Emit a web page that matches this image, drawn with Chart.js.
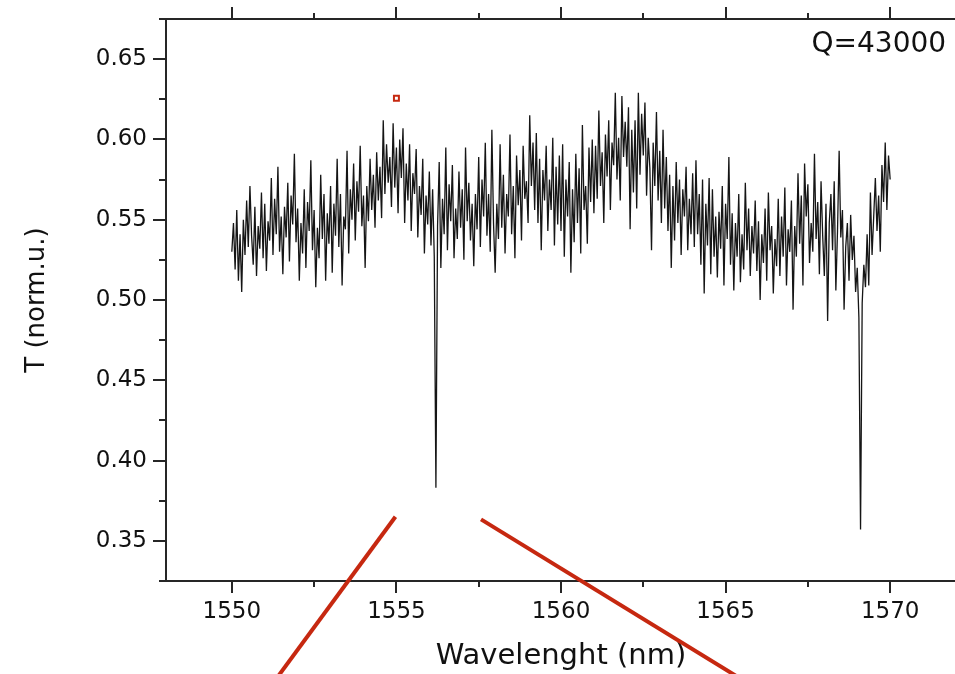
<!DOCTYPE html>
<html><head><meta charset="utf-8">
<script src="https://cdn.jsdelivr.net/npm/chart.js@4/dist/chart.umd.min.js"></script>
<style>html,body{margin:0;padding:0;overflow:hidden;background:#fff}canvas{display:block}</style>
</head><body>
<canvas id="c" width="962" height="674"></canvas>
<script>
// Sampling grid of the measured spectrum (nm)
const wlStart = 1550;
const wlStep = 0.05;
const transmission = [
  0.530, 0.548, 0.519, 0.556, 0.512, 0.541, 0.505, 0.550, 0.528, 0.562, 0.533, 0.571, 0.540, 0.522, 0.558, 0.515, 0.546, 0.532, 0.567, 0.526,
  0.560, 0.518, 0.549, 0.537, 0.576, 0.528, 0.563, 0.541, 0.583, 0.530, 0.552, 0.516, 0.558, 0.539, 0.573, 0.524, 0.565, 0.547, 0.591, 0.536,
  0.557, 0.512, 0.548, 0.529, 0.569, 0.520, 0.561, 0.543, 0.587, 0.531, 0.556, 0.508, 0.545, 0.526, 0.578, 0.538, 0.566, 0.512, 0.554, 0.535,
  0.571, 0.517, 0.560, 0.540, 0.588, 0.533, 0.566, 0.509, 0.552, 0.544, 0.593, 0.529, 0.569, 0.550, 0.585, 0.537, 0.574, 0.555, 0.596, 0.546,
  0.565, 0.520, 0.571, 0.549, 0.588, 0.556, 0.578, 0.545, 0.592, 0.562, 0.583, 0.551, 0.612, 0.566, 0.597, 0.573, 0.589, 0.558, 0.610, 0.570,
  0.595, 0.554, 0.600, 0.576, 0.607, 0.548, 0.585, 0.562, 0.597, 0.543, 0.579, 0.566, 0.594, 0.539, 0.571, 0.553, 0.588, 0.529, 0.565, 0.547,
  0.580, 0.534, 0.569, 0.527, 0.383, 0.546, 0.586, 0.520, 0.563, 0.541, 0.595, 0.531, 0.572, 0.549, 0.584, 0.526, 0.557, 0.538, 0.580, 0.545,
  0.569, 0.525, 0.595, 0.549, 0.573, 0.537, 0.560, 0.521, 0.566, 0.544, 0.589, 0.533, 0.575, 0.552, 0.598, 0.540, 0.566, 0.530, 0.606, 0.548,
  0.517, 0.560, 0.538, 0.597, 0.545, 0.578, 0.529, 0.566, 0.552, 0.603, 0.541, 0.571, 0.526, 0.590, 0.559, 0.581, 0.537, 0.596, 0.563, 0.574,
  0.548, 0.615, 0.571, 0.598, 0.556, 0.604, 0.548, 0.588, 0.531, 0.581, 0.562, 0.596, 0.543, 0.575, 0.556, 0.601, 0.534, 0.583, 0.547, 0.590,
  0.543, 0.597, 0.527, 0.575, 0.552, 0.586, 0.517, 0.569, 0.536, 0.591, 0.548, 0.582, 0.529, 0.609, 0.556, 0.571, 0.535, 0.595, 0.561, 0.600,
  0.554, 0.596, 0.563, 0.618, 0.571, 0.592, 0.548, 0.603, 0.577, 0.612, 0.556, 0.598, 0.584, 0.629, 0.575, 0.601, 0.562, 0.627, 0.589, 0.611,
  0.583, 0.620, 0.544, 0.606, 0.567, 0.612, 0.557, 0.629, 0.578, 0.616, 0.590, 0.623, 0.565, 0.601, 0.582, 0.531, 0.598, 0.571, 0.617, 0.562,
  0.593, 0.548, 0.606, 0.557, 0.589, 0.543, 0.578, 0.520, 0.571, 0.537, 0.586, 0.548, 0.575, 0.528, 0.569, 0.552, 0.583, 0.531, 0.563, 0.541,
  0.579, 0.533, 0.587, 0.541, 0.566, 0.522, 0.575, 0.504, 0.560, 0.534, 0.576, 0.516, 0.569, 0.527, 0.552, 0.514, 0.555, 0.532, 0.571, 0.509,
  0.560, 0.538, 0.589, 0.522, 0.554, 0.506, 0.548, 0.527, 0.566, 0.511, 0.541, 0.519, 0.573, 0.531, 0.557, 0.515, 0.546, 0.529, 0.562, 0.518,
  0.549, 0.500, 0.541, 0.523, 0.557, 0.512, 0.567, 0.531, 0.546, 0.504, 0.538, 0.521, 0.563, 0.515, 0.552, 0.527, 0.570, 0.509, 0.544, 0.530,
  0.562, 0.494, 0.546, 0.527, 0.579, 0.535, 0.565, 0.509, 0.585, 0.552, 0.572, 0.523, 0.548, 0.530, 0.591, 0.538, 0.561, 0.516, 0.574, 0.540,
  0.515, 0.560, 0.487, 0.548, 0.566, 0.531, 0.574, 0.506, 0.543, 0.593, 0.539, 0.556, 0.494, 0.533, 0.548, 0.512, 0.553, 0.525, 0.540, 0.505,
  0.520, 0.489, 0.357, 0.498, 0.522, 0.508, 0.541, 0.509, 0.567, 0.528, 0.552, 0.576, 0.543, 0.565, 0.530, 0.584, 0.561, 0.598, 0.556, 0.590,
  0.575
];
const wavelengths = transmission.map((_, i) => +(wlStart + i * wlStep).toFixed(2));

// Tick values / labels
const xMajorTicks = [1550, 1555, 1560, 1565, 1570];
const xMinorTicks = [1552.5, 1557.5, 1562.5, 1567.5];
const yMajorTicks = [0.35, 0.40, 0.45, 0.50, 0.55, 0.60, 0.65];
const yMinorTicks = [0.325, 0.375, 0.425, 0.475, 0.525, 0.575, 0.625, 0.675];

// Annotations (data coordinates)
const zoomLineLeft = [{x: 1554.97, y: 0.365}, {x: 1551.40, y: 0.2655}];
const zoomLineRight = [{x: 1557.57, y: 0.3634}, {x: 1565.35, y: 0.2655}];
const markerPoint = [{x: 1555.0, y: 0.6257}];
const qLabel = 'Q=43000';
const qLabelPos = {x: 1571.7, y: 0.6545};

const axisColor = '#262626';
const red = '#c62810';
const FONT = 'DejaVu Sans';
Chart.defaults.font.family = FONT;
Chart.defaults.color = '#111';

const noPad = s => { s.paddingTop = 0; s.paddingBottom = 0; s.paddingLeft = 0; s.paddingRight = 0; };

const tickPlugin = {
  id: 'axisTicks',
  afterDraw(chart) {
    const {ctx, chartArea: a, scales: {x, y}} = chart;
    ctx.save();
    ctx.strokeStyle = axisColor;
    ctx.lineWidth = 2;
    ctx.beginPath();
    const vx = (vals, len) => vals.forEach(v => {
      const p = Math.round(x.getPixelForValue(v));
      ctx.moveTo(p, a.bottom); ctx.lineTo(p, a.bottom + len);
      ctx.moveTo(p, a.top); ctx.lineTo(p, a.top - len);
    });
    const vy = (vals, len) => vals.forEach(v => {
      const p = Math.round(y.getPixelForValue(v));
      ctx.moveTo(a.left, p); ctx.lineTo(a.left - len, p);
    });
    vx(xMajorTicks, 12); vx(xMinorTicks, 6);
    vy(yMajorTicks, 13); vy(yMinorTicks, 7);
    ctx.stroke();
    ctx.fillStyle = '#111';
    ctx.font = '28px "' + FONT + '"';
    ctx.textAlign = 'right';
    ctx.textBaseline = 'alphabetic';
    ctx.fillText(qLabel, x.getPixelForValue(qLabelPos.x), y.getPixelForValue(qLabelPos.y));
    ctx.restore();
  }
};

new Chart(document.getElementById('c'), {
  type: 'line',
  data: {
    datasets: [
      {data: wavelengths.map((w, i) => ({x: w, y: transmission[i]})), borderColor: '#151515', borderWidth: 1.3, pointRadius: 0, tension: 0},
      {data: zoomLineLeft, borderColor: red, borderWidth: 4, pointRadius: 0, clip: false},
      {data: zoomLineRight, borderColor: red, borderWidth: 4, pointRadius: 0, clip: false},
      {data: markerPoint, showLine: false, pointStyle: 'rect', pointRadius: 3.5, borderColor: red, borderWidth: 2, backgroundColor: '#fff', clip: false}
    ]
  },
  options: {
    responsive: false, animation: false, devicePixelRatio: 1,
    layout: {padding: {left: 0, top: 0, right: 2, bottom: 0}},
    plugins: {legend: {display: false}, tooltip: {enabled: false}},
    scales: {
      x: {
        type: 'linear', position: 'bottom', min: 1548, max: 1572,
        afterBuildTicks: s => { s.ticks = xMajorTicks.map(v => ({value: v})); },
        ticks: {padding: 17, font: {size: 23}, color: '#111', callback: v => String(v)},
        grid: {display: false, drawTicks: false},
        border: {display: true, width: 2, color: axisColor},
        title: {display: true, text: 'Wavelenght (nm)', font: {size: 29}, color: '#111', padding: {top: 0, bottom: 0}},
        afterFit: s => { s.height = 93; noPad(s); }
      },
      x2: {
        type: 'linear', position: 'top', min: 1548, max: 1572,
        ticks: {display: false},
        grid: {display: false, drawTicks: false},
        border: {display: true, width: 2, color: axisColor},
        afterFit: s => { s.height = 19; noPad(s); }
      },
      y: {
        type: 'linear', position: 'left', min: 0.325, max: 0.675,
        afterBuildTicks: s => { s.ticks = yMajorTicks.map(v => ({value: v})); },
        ticks: {padding: 19, font: {size: 23}, color: '#111', callback: v => Number(v).toFixed(2)},
        grid: {display: false, drawTicks: false},
        border: {display: true, width: 2, color: axisColor},
        title: {display: true, text: 'T (norm.u.)', font: {size: 26}, color: '#111', padding: {top: 22, bottom: 0}},
        afterFit: s => { s.width = 166; noPad(s); }
      }
    }
  },
  plugins: [tickPlugin]
});
</script>
</body></html>
